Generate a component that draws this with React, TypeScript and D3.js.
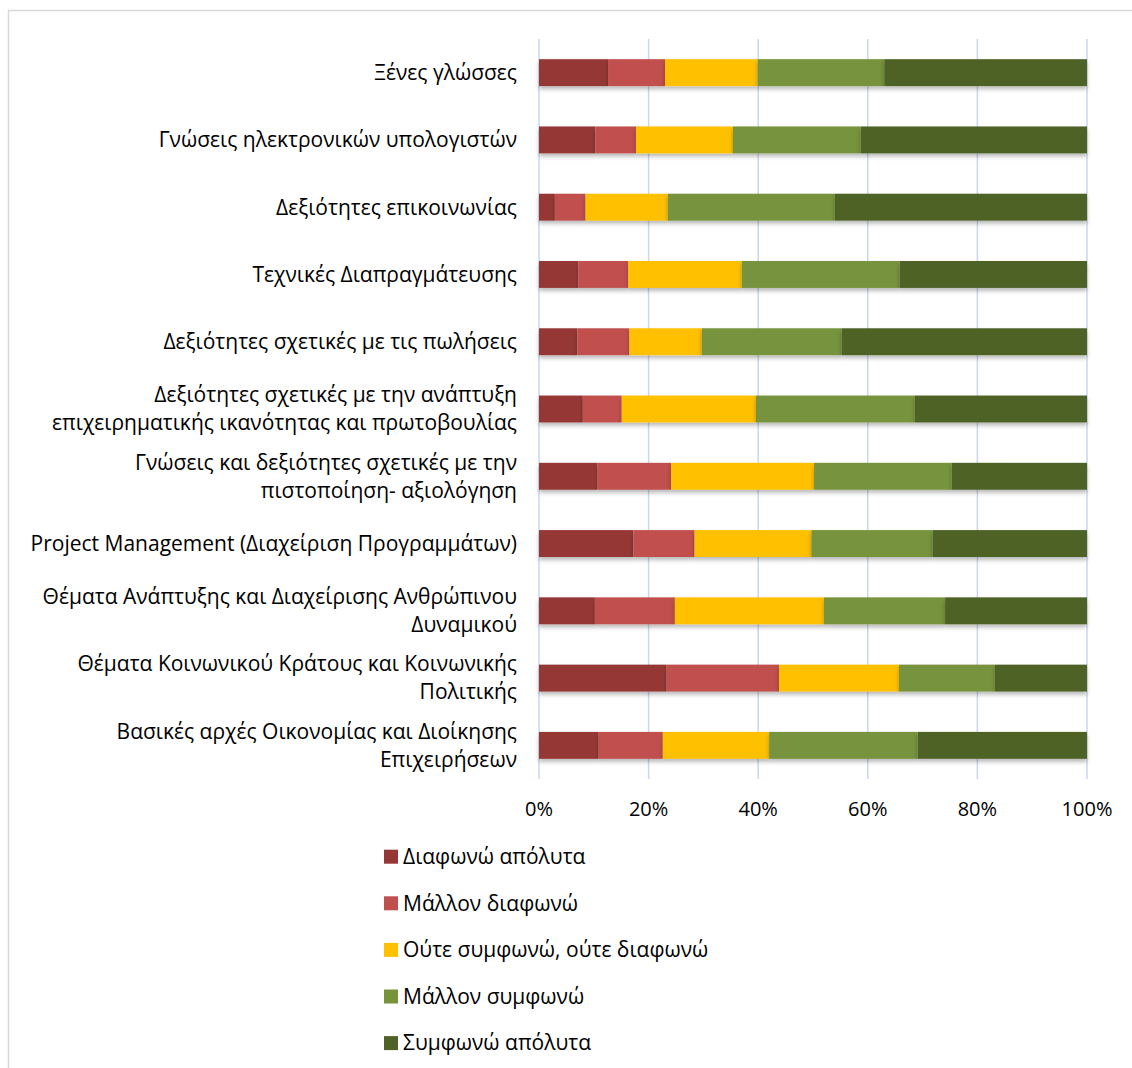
import React from "react";
import * as d3 from "d3";

const categories = [
  "Ξένες γλώσσες",
  "Γνώσεις ηλεκτρονικών υπολογιστών",
  "Δεξιότητες επικοινωνίας",
  "Τεχνικές Διαπραγμάτευσης",
  "Δεξιότητες σχετικές με τις πωλήσεις",
  "Δεξιότητες σχετικές με την ανάπτυξη\nεπιχειρηματικής ικανότητας και πρωτοβουλίας",
  "Γνώσεις και δεξιότητες σχετικές με την\nπιστοποίηση- αξιολόγηση",
  "Project Management (Διαχείριση Προγραμμάτων)",
  "Θέματα Ανάπτυξης και Διαχείρισης Ανθρώπινου\nΔυναμικού",
  "Θέματα Κοινωνικού Κράτους και Κοινωνικής\nΠολιτικής",
  "Βασικές αρχές Οικονομίας και Διοίκησης\nΕπιχειρήσεων",
];

const seriesNames = [
  "Διαφωνώ απόλυτα",
  "Μάλλον διαφωνώ",
  "Ούτε συμφωνώ, ούτε διαφωνώ",
  "Μάλλον συμφωνώ",
  "Συμφωνώ απόλυτα",
];

const diafonoApolyta = [12.6, 10.3, 2.9, 7.2, 7.0, 8.0, 10.7, 17.2, 10.2, 23.3, 10.9];
const mallonDiafono = [10.4, 7.4, 5.6, 9.1, 9.5, 7.1, 13.4, 11.2, 14.6, 20.5, 11.7];
const oute = [16.9, 17.7, 15.0, 20.7, 13.2, 24.5, 26.1, 21.3, 27.2, 21.9, 19.4];
const mallonSymfono = [23.1, 23.3, 30.5, 28.8, 25.5, 29.0, 25.1, 22.1, 22.1, 17.5, 27.1];
const symfonoApolyta = [37.0, 41.3, 46.0, 34.2, 44.8, 31.4, 24.7, 28.2, 25.9, 16.8, 30.9];

const tickValues = [0, 0.2, 0.4, 0.6, 0.8, 1];

const colors = ["#953735", "#C0504D", "#FFC000", "#77933C", "#4F6228"];

const W = 1132;
const H = 1068;
const FONT = "'Open Sans', sans-serif";

export default function App() {
  const seriesValues = [diafonoApolyta, mallonDiafono, oute, mallonSymfono, symfonoApolyta];
  const rows = categories.map((c, i) => {
    const r: any = { cat: c };
    seriesNames.forEach((s, k) => (r[s] = seriesValues[k][i]));
    return r;
  });
  const stacked = d3.stack<any>().keys(seriesNames).offset(d3.stackOffsetExpand)(rows);

  const x = d3.scaleLinear().domain([0, 1]).range([539, 1087]);
  const y = d3.scaleBand().domain(categories).range([39, 779]).paddingInner(0.6).paddingOuter(0.3);
  const fmt = d3.format(".0%");

  return (
    <svg width={W} height={H} style={{ position: "absolute", left: 0, top: 0 }} fontFamily={FONT}>
      <defs>
        <filter id="shadow" x="-5%" y="-30%" width="110%" height="180%">
          <feDropShadow dx="0" dy="3" stdDeviation="2.2" floodColor="#000" floodOpacity="0.28" />
        </filter>
      </defs>
      <rect x={0} y={0} width={W} height={H} fill="#fff" />
      <rect x={8.5} y={10.5} width={W + 20} height={H + 20} fill="none" stroke="#D9D9D9" strokeWidth={1.5} />

      {tickValues.map((t) => (
        <g key={t}>
          <line x1={x(t)} x2={x(t)} y1={39} y2={779} stroke="#C9D8EE" strokeWidth={1.5} />
          <text x={x(t)} y={816} textAnchor="middle" fontSize={20} fill="#000">
            {fmt(t)}
          </text>
        </g>
      ))}

      {stacked.map((layer, k) => (
        <g key={layer.key} filter="url(#shadow)">
          {layer.map((d, i) => (
            <rect
              key={i}
              x={x(d[0])}
              y={y(categories[i])}
              width={x(d[1]) - x(d[0])}
              height={y.bandwidth()}
              fill={colors[k]}
            />
          ))}
        </g>
      ))}

      {categories.map((c) => {
        const lines = c.split("\n");
        const cy = (y(c) as number) + y.bandwidth() / 2;
        const lh = 28;
        return (
          <text key={c} x={517} textAnchor="end" fontSize={21} fill="#000">
            {lines.map((l, j) => (
              <tspan key={j} x={517} y={cy + (j - (lines.length - 1) / 2) * lh} dy="0.35em">
                {l}
              </tspan>
            ))}
          </text>
        );
      })}

      {seriesNames.map((s, k) => {
        const cy = 856.7 + k * 46.6;
        return (
          <g key={s}>
            <rect x={384} y={cy - 7} width={14} height={14} fill={colors[k]} />
            <text x={403} y={cy} dy="0.35em" fontSize={21} fill="#000">
              {s}
            </text>
          </g>
        );
      })}
    </svg>
  );
}
